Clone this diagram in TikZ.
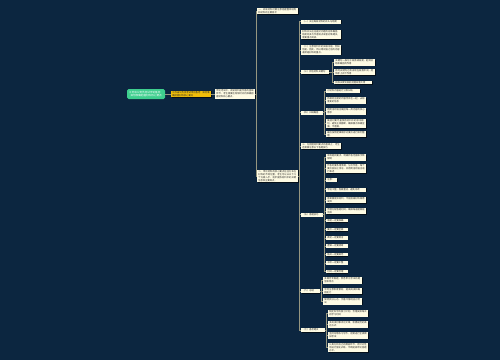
\documentclass[tikz,border=0pt]{standalone}
\usepackage{fontspec}
\usetikzlibrary{shadows}
\newfontfamily\cjk{Noto Sans CJK SC}
\XeTeXlinebreaklocale "zh"
\XeTeXlinebreakskip = 0pt plus 0.5pt
\definecolor{bg}{RGB}{12,38,64}
\definecolor{cream}{RGB}{254,251,228}
\definecolor{lineC}{RGB}{150,150,128}
\definecolor{rootG}{RGB}{62,207,142}
\definecolor{goldY}{RGB}{240,190,10}
\tikzset{
  leaf/.style={anchor=west, fill=cream, inner xsep=1.2pt, inner ysep=0.9pt, align=left,
    font=\cjk\fontsize{2.3}{2.95}\selectfont, text=black!85,
    drop shadow={shadow xshift=0.5pt, shadow yshift=-0.5pt, opacity=0.6, fill=black}},
  Lw/.style={leaf, text width=#1},
  conn/.style={draw=lineC, line width=0.5pt},
  rootbox/.style={anchor=west, fill=rootG, rounded corners=1.5pt, inner xsep=2pt, inner ysep=1pt,
    align=center, minimum height=10pt, font=\cjk\fontsize{2.6}{3.4}\selectfont, text=white},
}
\begin{document}
\begin{tikzpicture}[x=1pt,y=-1pt]
\fill[bg] (0,0) rectangle (500,360);
\useasboundingbox (0,0) rectangle (500,360);
% left chain
\node[rootbox] (root) at (127,94) {江苏省公务员考试申论备考：\\如何准确把握材料核心要点};
\node[Lw=37.6pt, fill=goldY] (yel) at (171,94) {江苏省公务员考试申论备考：如何准确把握材料核心要点};
\node[Lw=37.6pt] (wht) at (215,94) {申论考试中，阅读材料是作答的基础环节，考生需要在有限时间内准确把握材料核心要点。};
% level 1
\node[Lw=38.6pt] (A) at (257,11) {一、阅读材料时要注意把握整体结构和材料的主要层次};
\node[Lw=38.6pt] (B) at (257,176) {二、申论材料的核心要点往往分布在材料的不同位置，考生可以从以下几个方面入手，逐步提炼材料中的关键信息和主要观点。};
% level 2
\node[Lw=37.6pt] (n1) at (301,21.5) {（一）关注每段材料的开头与结尾};
\node[Lw=37.6pt] (n2) at (301,34.5) {材料开头往往是对问题的总体概括，结尾则多为作者观点或者对策建议，需要重点阅读。};
\node[Lw=37.6pt] (n3) at (301,50) {（二）注意材料中的关联词语，例如但是、因此、所以等词语之后的内容通常是材料的重点。};
\node[Lw=25.6pt] (n4) at (301,72) {（三）抓住材料关键句};
\node[Lw=19.1pt] (n5) at (301,112.5) {（四）归纳概括};
\node[Lw=37.6pt] (n6) at (301,146) {三、在把握材料要点的基础上，考生还需要注意以下答题技巧};
\node[Lw=19.1pt] (n7) at (301,214.5) {（五）答题技巧};
\node[Lw=16.1pt] (n8) at (301,291) {（六）总结};
\node[Lw=21.1pt] (n9) at (301,330) {（七）备考建议};
% level 3 under n4
\node[Lw=38.6pt] (c1) at (334,62.5) {关键句一般位于段首或段尾，起到总结和概括的作用};
\node[Lw=38.6pt] (c2) at (334,72) {有时关键句也会出现在段落中间，起到承上启下作用};
\node[Lw=35.6pt] (c3) at (334,82.5) {找准关键句就能把握段落大意};
% under n5
\node[Lw=31.6pt] (d1) at (326,91) {对材料内容进行分类归纳};
\node[Lw=37.6pt] (d2) at (326,100.5) {将相同主题的内容合并在一起，去除重复的信息};
\node[Lw=37.6pt] (d3) at (326,111.5) {用简洁的语言概括每一类内容的核心意思};
\node[Lw=37.6pt] (d4) at (326,123.5) {概括时要尽量使用材料中的原词原句，避免主观臆断，确保要点准确全面、不遗漏。};
\node[Lw=37.6pt] (d5) at (326,134) {最后按照逻辑顺序对要点进行排列整理。};
% under n7
\node[Lw=37.6pt] (e1) at (326,157.5) {审清题目要求，明确作答范围和字数限制};
\node[Lw=37.6pt] (e2) at (326,168.5) {作答时要条理清晰，分点作答，每个要点前加上序号，并用简洁的语言进行表述};
\node[Lw=8.6pt] (e3) at (326,180) {注意：};
\node[Lw=37.6pt] (e4) at (326,189.5) {字迹工整，卷面整洁，避免涂改};
\node[Lw=37.6pt] (e5) at (326,200) {答案要紧扣材料，不能脱离材料随意发挥};
\node[Lw=37.6pt] (e6) at (326,211) {合理分配答题时间，确保每道题都能完成};
\node[Lw=19.1pt] (e7) at (326,220.5) {审题一定要准确};
\node[Lw=19.1pt] (e8) at (326,229.5) {要点一定要全面};
\node[Lw=19.1pt] (e9) at (326,238) {表述一定要简洁};
\node[Lw=19.1pt] (e10) at (326,246) {逻辑一定要清晰};
\node[Lw=19.1pt] (e11) at (326,254.5) {格式一定要规范};
\node[Lw=19.1pt] (e12) at (326,263) {书写一定要工整};
\node[Lw=19.1pt] (e13) at (326,271.5) {时间一定要合理};
% under n8
\node[Lw=36.6pt] (f1) at (323,280.5) {多做历年真题，熟悉申论考试的题型和特点};
\node[Lw=36.6pt] (f2) at (323,291) {平时注意积累素材，提高阅读和概括能力};
\node[Lw=36.6pt] (f3) at (323,301.5) {保持良好心态，沉着冷静地应对考试};
% under n9
\node[Lw=37.6pt] (g1) at (328,313.5) {制定科学的复习计划，合理安排每天的学习时间};
\node[Lw=37.6pt] (g2) at (328,324.5) {多阅读时事评论文章，积累规范的表达方式};
\node[Lw=37.6pt] (g3) at (328,335.5) {坚持动笔练习写作，定期进行全真模拟考试};
\node[Lw=37.6pt] (g4) at (328,347.5) {认真分析自己的薄弱环节，有针对性地进行强化训练，不断提高申论答题水平。};
% connectors
\draw[conn] (root.east) -- (yel.west);
\draw[conn] (yel.east) -- (wht.west);
\foreach \c in {A,B} \draw[conn] (wht.east) -| ([xshift=-1pt]\c.west) -- (\c.west);
\foreach \c in {n1,n2,n3,n4,n5,n6,n7,n8,n9} \draw[conn] (B.east) -| ([xshift=-1.5pt]\c.west) -- (\c.west);
\foreach \c in {c1,c2,c3} \draw[conn] (n4.east) -| ([xshift=-2pt]\c.west) -- (\c.west);
\foreach \c in {d1,d2,d3,d4,d5} \draw[conn] (n5.east) -| ([xshift=-2pt]\c.west) -- (\c.west);
\foreach \c in {e1,e2,e3,e4,e5,e6,e7,e8,e9,e10,e11,e12,e13} \draw[conn] (n7.east) -| ([xshift=-2pt]\c.west) -- (\c.west);
\foreach \c in {f1,f2,f3} \draw[conn] (n8.east) -| ([xshift=-2pt]\c.west) -- (\c.west);
\foreach \c in {g1,g2,g3,g4} \draw[conn] (n9.east) -| ([xshift=-2pt]\c.west) -- (\c.west);
\end{tikzpicture}
\end{document}
